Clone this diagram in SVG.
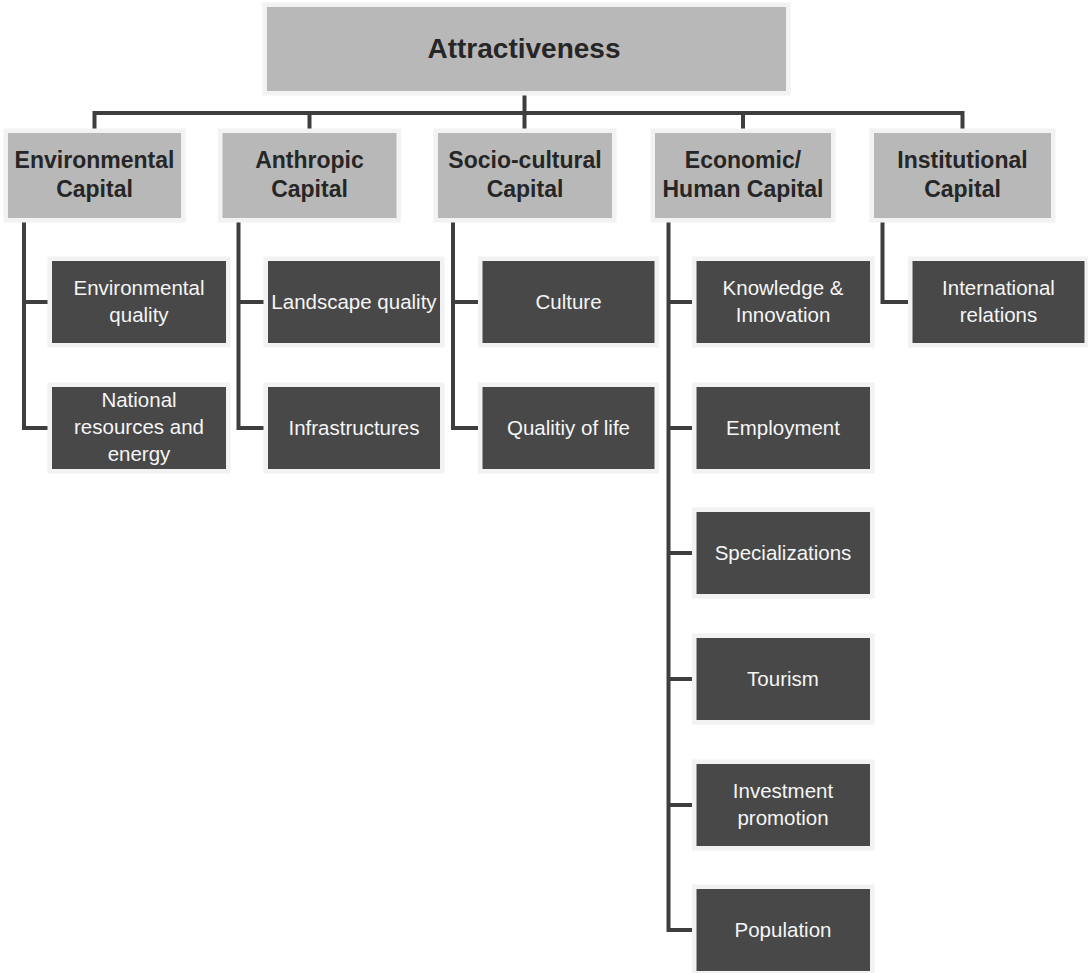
<svg xmlns="http://www.w3.org/2000/svg" width="1088" height="973" viewBox="0 0 1088 973">
<style>
.bg{fill:#ffffff}
.top{fill:#b8b8b8;stroke:#f2f2f2;stroke-width:9;paint-order:stroke}
.cap{fill:#b8b8b8;stroke:#f2f2f2;stroke-width:9;paint-order:stroke}
.leaf{fill:#484848;stroke:#f2f2f2;stroke-width:9;paint-order:stroke}
.tt{font-family:"Liberation Sans",Arial,sans-serif;font-weight:bold;font-size:28px;fill:#262626;text-anchor:middle}
.ct{font-family:"Liberation Sans",Arial,sans-serif;font-weight:bold;font-size:23px;fill:#262626;text-anchor:middle}
.lt{font-family:"Liberation Sans",Arial,sans-serif;font-size:20.5px;fill:#f5f5f5;text-anchor:middle}
.ln{fill:none;stroke:#3e3e3e;stroke-width:4;stroke-linejoin:miter;stroke-linecap:butt}
</style>
<rect class="bg" x="0" y="0" width="1088" height="973"/>
<g id="connectors">
<path class="ln" d="M524.5,91 V113"/>
<path class="ln" d="M94.5,133 V113 H962.5 V133"/>
<path class="ln" d="M309.5,113 V133"/>
<path class="ln" d="M524.5,113 V133"/>
<path class="ln" d="M743,113 V133"/>
<path class="ln" d="M24,218 V428 H52"/>
<path class="ln" d="M24,302 H52"/>
<path class="ln" d="M238.5,218 V428 H268"/>
<path class="ln" d="M238.5,302 H268"/>
<path class="ln" d="M453,218 V428 H482"/>
<path class="ln" d="M453,302 H482"/>
<path class="ln" d="M668.5,218 V930 H696"/>
<path class="ln" d="M668.5,302 H696 M668.5,428 H696 M668.5,553 H696 M668.5,679 H696 M668.5,805 H696"/>
<path class="ln" d="M882.5,218 V302 H912"/>
</g>
<g id="attractiveness">
<rect class="top" x="267" y="7" width="519" height="84"/>
<text class="tt" x="524" y="58">Attractiveness</text>
</g>
<g id="environmental-capital">
<rect class="cap" x="8" y="133" width="173" height="85"/>
<text class="ct" x="94.5" y="168">Environmental</text>
<text class="ct" x="94.5" y="197">Capital</text>
</g>
<g id="anthropic-capital">
<rect class="cap" x="222.5" y="133" width="174" height="85"/>
<text class="ct" x="309.5" y="168">Anthropic</text>
<text class="ct" x="309.5" y="197">Capital</text>
</g>
<g id="socio-cultural-capital">
<rect class="cap" x="438" y="133" width="174" height="85"/>
<text class="ct" x="525" y="168">Socio-cultural</text>
<text class="ct" x="525" y="197">Capital</text>
</g>
<g id="economic-human-capital">
<rect class="cap" x="655" y="133" width="176" height="85"/>
<text class="ct" x="743" y="168">Economic/</text>
<text class="ct" x="743" y="197">Human Capital</text>
</g>
<g id="institutional-capital">
<rect class="cap" x="874" y="133" width="177" height="85"/>
<text class="ct" x="962.5" y="168">Institutional</text>
<text class="ct" x="962.5" y="197">Capital</text>
</g>
<g id="environmental-quality">
<rect class="leaf" x="52" y="261" width="174" height="82"/>
<text class="lt" x="139" y="295">Environmental</text>
<text class="lt" x="139" y="322">quality</text>
</g>
<g id="national-resources">
<rect class="leaf" x="52" y="387" width="174" height="82"/>
<text class="lt" x="139" y="407">National</text>
<text class="lt" x="139" y="434">resources and</text>
<text class="lt" x="139" y="461">energy</text>
</g>
<g id="landscape-quality">
<rect class="leaf" x="268" y="261" width="172" height="82"/>
<text class="lt" x="354" y="309">Landscape quality</text>
</g>
<g id="infrastructures">
<rect class="leaf" x="268" y="387" width="172" height="82"/>
<text class="lt" x="354" y="435">Infrastructures</text>
</g>
<g id="culture">
<rect class="leaf" x="482.5" y="261" width="172" height="82"/>
<text class="lt" x="568.5" y="309">Culture</text>
</g>
<g id="quality-of-life">
<rect class="leaf" x="482.5" y="387" width="172" height="82"/>
<text class="lt" x="568.5" y="435">Qualitiy of life</text>
</g>
<g id="knowledge-innovation">
<rect class="leaf" x="696.5" y="261" width="173.5" height="82"/>
<text class="lt" x="783" y="295">Knowledge &amp;</text>
<text class="lt" x="783" y="322">Innovation</text>
</g>
<g id="employment">
<rect class="leaf" x="696.5" y="387" width="173.5" height="82"/>
<text class="lt" x="783" y="435">Employment</text>
</g>
<g id="specializations">
<rect class="leaf" x="696.5" y="512" width="173.5" height="82"/>
<text class="lt" x="783" y="560">Specializations</text>
</g>
<g id="tourism">
<rect class="leaf" x="696.5" y="638" width="173.5" height="82"/>
<text class="lt" x="783" y="686">Tourism</text>
</g>
<g id="investment-promotion">
<rect class="leaf" x="696.5" y="764" width="173.5" height="82"/>
<text class="lt" x="783" y="798">Investment</text>
<text class="lt" x="783" y="825">promotion</text>
</g>
<g id="population">
<rect class="leaf" x="696.5" y="889" width="173.5" height="82"/>
<text class="lt" x="783" y="937">Population</text>
</g>
<g id="international-relations">
<rect class="leaf" x="912.5" y="261" width="172" height="82"/>
<text class="lt" x="998.5" y="295">International</text>
<text class="lt" x="998.5" y="322">relations</text>
</g>
</svg>
